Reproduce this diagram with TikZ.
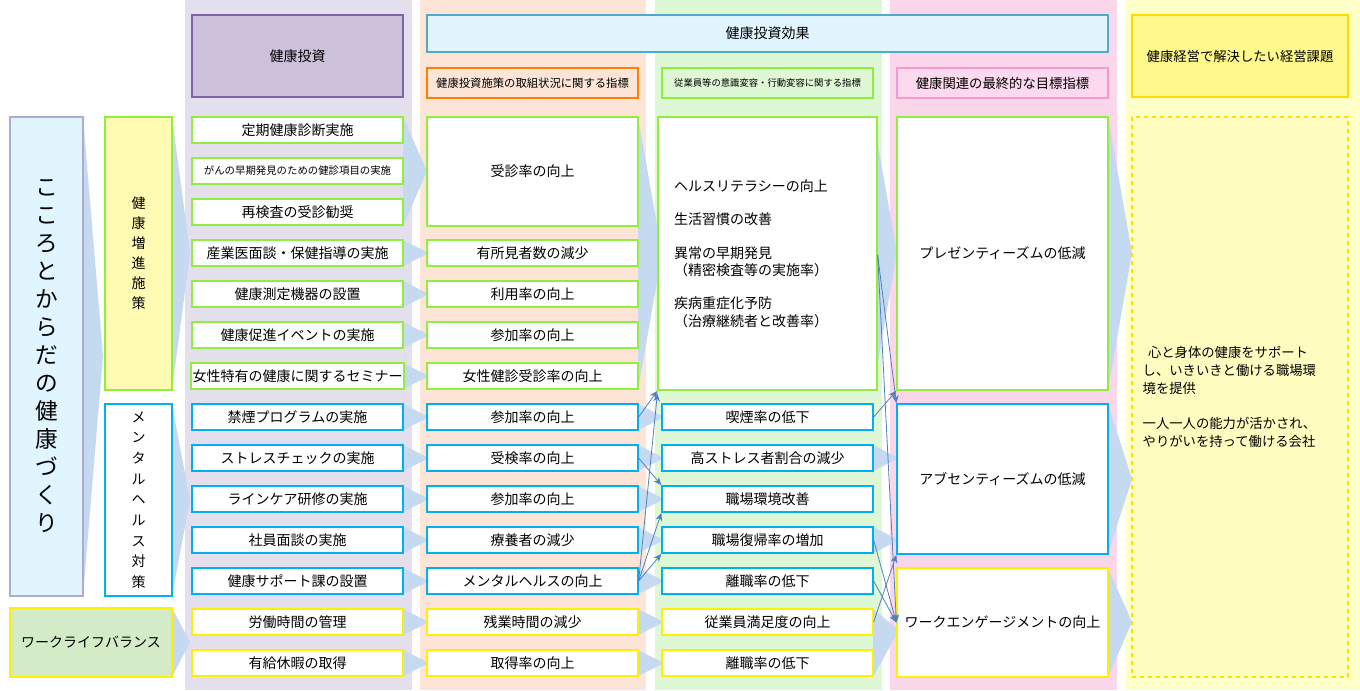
\documentclass[tikz,border=0pt]{standalone}
\usepackage{fontspec}
\setmainfont{Noto Sans CJK JP}
\usetikzlibrary{arrows.meta}

\definecolor{lime}{RGB}{146,238,60}
\definecolor{cyanb}{RGB}{0,176,240}
\definecolor{yel}{RGB}{255,240,0}
\definecolor{bglav}{RGB}{228,223,236}
\definecolor{bgpeach}{RGB}{252,229,214}
\definecolor{bggreen}{RGB}{222,247,212}
\definecolor{bgpink}{RGB}{249,214,234}
\definecolor{bgyel}{RGB}{255,255,200}
\definecolor{chevc}{RGB}{197,217,241}
\definecolor{thin}{RGB}{79,129,189}
\definecolor{lavhead}{RGB}{204,192,218}
\definecolor{lavline}{RGB}{128,100,162}

\tikzset{
  cell/.style={draw, line width=1.2pt, fill=white, minimum width=158pt, minimum height=19.5pt,
    inner sep=1pt, font=\fontsize{10.5}{12}\selectfont},
  gbox/.style={cell, draw=lime},
  cbox/.style={cell, draw=cyanb},
  ybox/.style={cell, draw=yel},
  chev/.style={fill=chevc},
  link/.style={draw=thin, line width=0.6pt, -{Stealth[length=6pt,width=5pt]}},
}

\begin{document}
\begin{tikzpicture}[x=0.75pt,y=-0.75pt]
    \useasboundingbox (0,0) rectangle (1360,690);
    \fill[white] (0,0) rectangle (1360,690);
    % column backgrounds
    \fill[bglav] (185,0) rectangle (412,690);
    \fill[bgpeach] (420,0) rectangle (646,690);
    \fill[bggreen] (655,0) rectangle (882,690);
    \fill[bgpink] (890,0) rectangle (1117,690);
    \fill[bgyel] (1125,0) rectangle (1360,690);

    % headers
    \node[draw=lavline, fill=lavhead, line width=1.2pt, minimum width=158pt,
      minimum height=61.5pt, font=\fontsize{10.5}{12}\selectfont] (hinv) at (297.5,56) {健康投資};
    \node[draw=cyan!60!gray, fill=cyan!12, line width=1.2pt, minimum width=510.75pt,
      minimum height=27.75pt, font=\fontsize{10.5}{12}\selectfont] (heff) at (767.5,33.5) {健康投資効果};
    \node[draw=orange, fill=bgpeach, line width=1.2pt, minimum width=158pt, minimum height=22.5pt,
      inner sep=1pt, font=\fontsize{8.5}{10}\selectfont] (hsub1) at (532.5,83) {健康投資施策の取組状況に関する指標};
    \node[draw=lime, fill=bggreen, line width=1.2pt, minimum width=158pt, minimum height=22.5pt,
      inner sep=1pt, font=\fontsize{7}{8}\selectfont] (hsub2) at (767.5,83) {従業員等の意識変容・行動変容に関する指標};
    \node[draw=magenta!40, fill=magenta!15, line width=1.2pt, minimum width=158pt, minimum height=22.5pt,
      inner sep=1pt, font=\fontsize{10}{12}\selectfont] (hsub3) at (1002.5,83) {健康関連の最終的な目標指標};
    \node[draw=yel!80!orange, fill=yellow!45, line width=1.2pt, minimum width=162pt, minimum height=61.5pt,
      font=\fontsize{10}{12}\selectfont] (hgoal) at (1240,56) {健康経営で解決したい経営課題};

    % coordinates for chevrons
    \coordinate (ap0) at (103,356);
    \coordinate (ap1) at (190,253);
    \coordinate (ap2) at (190,500);
    \coordinate (ap3) at (190,642);

    % chevrons (behind boxes)
    \fill[chev] (83,117) -- (83,596) -- (ap0) -- cycle;
    \fill[chev] (172,117) -- (172,390) -- (ap1) -- cycle;
    \fill[chev] (172,404) -- (172,596) -- (ap2) -- cycle;
    \fill[chev] (172,608) -- (172,677) -- (ap3) -- cycle;
    \fill[chev] (403,117) -- (403,226) -- (427,171) -- cycle;
    \foreach \y in {253,294,...,663} {
      \fill[chev] (403,\y-13) -- (403,\y+13) -- (429,\y) -- cycle;
    }
    \fill[chev] (638,117) -- (638,390) -- (662,253) -- cycle;
    \foreach \y in {417,458,...,663} {
      \fill[chev] (638,\y-13) -- (638,\y+13) -- (664,\y) -- cycle;
    }
    \fill[chev] (873,117) -- (873,390) -- (897,253) -- cycle;
    \fill[chev] (873,445) -- (873,471) -- (899,458) -- cycle;
    \fill[chev] (873,527) -- (873,553) -- (899,540) -- cycle;
    \fill[chev] (873,609) -- (873,677) -- (899,630) -- cycle;
    \fill[chev] (1108,117) -- (1108,390) -- (1132,253) -- cycle;
    \fill[chev] (1108,404) -- (1108,554) -- (1132,479) -- cycle;
    \fill[chev] (1108,568) -- (1108,677) -- (1132,622) -- cycle;

    % left group boxes
    \node[draw=blue!30!gray!50, fill=cyan!12, line width=1.5pt, minimum width=54.75pt, minimum height=359pt,
      align=center, font=\fontsize{17}{21}\selectfont] (kokoro) at (46.5,356.5)
      {こ\\こ\\ろ\\と\\か\\ら\\だ\\の\\健\\康\\づ\\く\\り};
    \node[draw=lime, fill=yellow!30, line width=1.2pt, minimum width=50pt, minimum height=204.75pt,
      align=center, font=\fontsize{10.5}{15}\selectfont] (zoshin) at (138.5,253.5) {健\\康\\増\\進\\施\\策};
    \node[draw=cyanb, fill=white, line width=1.2pt, minimum width=50pt, minimum height=144pt,
      align=center, font=\fontsize{10.5}{15.5}\selectfont] (mental) at (138.5,500) {メ\\ン\\タ\\ル\\ヘ\\ル\\ス\\対\\策};
    \node[draw=yel, fill=olive!25!green!20, line width=1.2pt, minimum width=121.5pt, minimum height=51.75pt,
      font=\fontsize{10.5}{12}\selectfont] (wlb) at (91,642.5) {ワークライフバランス};

    % investment column
    \node[gbox] (a1) at (297.5,130) {定期健康診断実施};
    \node[gbox, font=\fontsize{7.8}{9}\selectfont] (a2) at (297.5,171) {がんの早期発見のための健診項目の実施};
    \node[gbox] (a3) at (297.5,212) {再検査の受診勧奨};
    \node[gbox] (a4) at (297.5,253) {産業医面談・保健指導の実施};
    \node[gbox] (a5) at (297.5,294) {健康測定機器の設置};
    \node[gbox] (a6) at (297.5,335) {健康促進イベントの実施};
    \node[gbox] (a7) at (297.5,376) {女性特有の健康に関するセミナー};
    \node[cbox] (a8) at (297.5,417) {禁煙プログラムの実施};
    \node[cbox] (a9) at (297.5,458) {ストレスチェックの実施};
    \node[cbox] (a10) at (297.5,499) {ラインケア研修の実施};
    \node[cbox] (a11) at (297.5,540) {社員面談の実施};
    \node[cbox] (a12) at (297.5,581) {健康サポート課の設置};
    \node[ybox] (a13) at (297.5,622) {労働時間の管理};
    \node[ybox] (a14) at (297.5,663) {有給休暇の取得};

    % action indicators
    \node[gbox, minimum height=81.75pt] (b1) at (532.5,171.5) {受診率の向上};
    \node[gbox] (b4) at (532.5,253) {有所見者数の減少};
    \node[gbox] (b5) at (532.5,294) {利用率の向上};
    \node[gbox] (b6) at (532.5,335) {参加率の向上};
    \node[gbox] (b7) at (532.5,376) {女性健診受診率の向上};
    \node[cbox] (b8) at (532.5,417) {参加率の向上};
    \node[cbox] (b9) at (532.5,458) {受検率の向上};
    \node[cbox] (b10) at (532.5,499) {参加率の向上};
    \node[cbox] (b11) at (532.5,540) {療養者の減少};
    \node[cbox] (b12) at (532.5,581) {メンタルヘルスの向上};
    \node[ybox] (b13) at (532.5,622) {残業時間の減少};
    \node[ybox] (b14) at (532.5,663) {取得率の向上};

    % behaviour indicators
    \node[gbox, minimum height=204.75pt, text width=140pt, align=left, inner xsep=12pt,
      font=\fontsize{10.5}{13}\selectfont] (c1) at (767.5,253.5)
      {ヘルスリテラシーの向上\\[12pt]生活習慣の改善\\[12pt]異常の早期発見\\（精密検査等の実施率）\\[12pt]疾病重症化予防\\（治療継続者と改善率）};
    \node[cbox] (c8) at (767.5,417) {喫煙率の低下};
    \node[cbox] (c9) at (767.5,458) {高ストレス者割合の減少};
    \node[cbox] (c10) at (767.5,499) {職場環境改善};
    \node[cbox] (c11) at (767.5,540) {職場復帰率の増加};
    \node[cbox] (c12) at (767.5,581) {離職率の低下};
    \node[ybox] (c13) at (767.5,622) {従業員満足度の向上};
    \node[ybox] (c14) at (767.5,663) {離職率の低下};

    % final indicators
    \node[gbox, minimum height=204.75pt] (d1) at (1002.5,253.5) {プレゼンティーズムの低減};
    \node[cbox, minimum height=112.5pt] (d2) at (1002.5,479) {アブセンティーズムの低減};
    \node[ybox, minimum height=81.75pt] (d3) at (1002.5,622.5) {ワークエンゲージメントの向上};

    % goal
    \node[draw=yel!85!orange, dashed, line width=1.2pt, fill=yellow!25, minimum width=162pt,
      minimum height=420pt, text width=146pt, align=left,
      font=\fontsize{10}{13.5}\selectfont] (goal) at (1240,397)
      {\hspace*{4pt}心と身体の健康をサポート\\し、いきいきと働ける職場環\\境を提供\\[13pt]一人一人の能力が活かされ、\\やりがいを持って働ける会社};

    % links
    \draw[link] (b8.east) -- (c1.south west);
    \draw[link] (b9.east) -- (c10.north west);
    \draw[link] (b12.east) -- ([yshift=-2pt]c1.south west);
    \draw[link] (b12.east) -- (c10.south west);
    \draw[link] (b12.east) -- (c11.south west);
    \draw[link] ([yshift=-1pt]c1.east) -- (d2.north west);
    \draw[link] ([yshift=-1pt]c1.east) -- (d3.west);
    \draw[link] (c8.east) -- (d1.south west);
    \draw[link] (c11.east) -- (d3.west);
    \draw[link] (c12.east) -- (d3.west);
    \draw[link] (c13.east) -- (d2.south west);
\end{tikzpicture}
\end{document}
